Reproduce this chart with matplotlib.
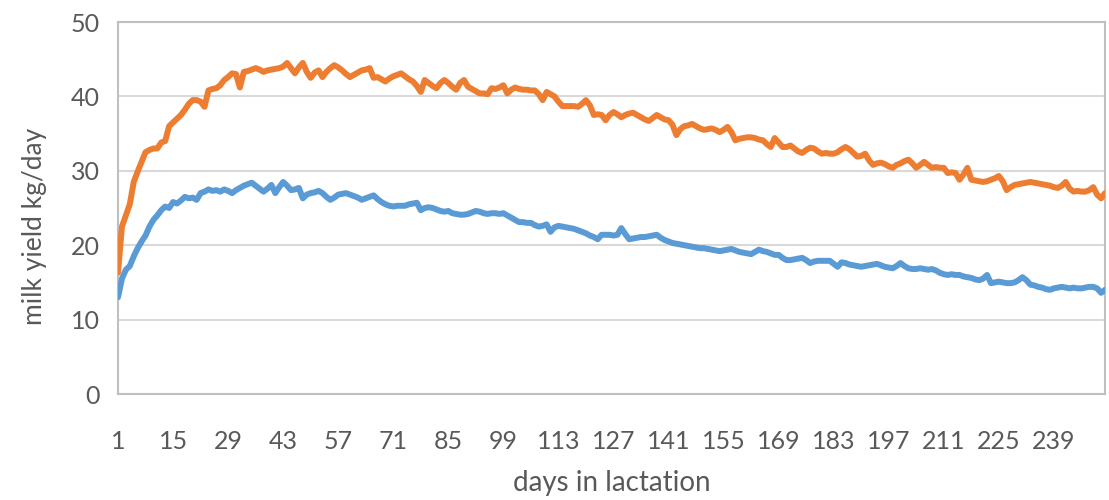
import matplotlib
matplotlib.use("Agg")
import matplotlib.pyplot as plt
import numpy as np

# daily milk yield (kg/day), days 1..252
orange_yield = [
    16.3, 22.5, 24.0, 25.5, 28.5, 29.9, 31.2, 32.5, 32.8, 33.0,
    33.0, 33.8, 34.0, 36.0, 36.5, 37.0, 37.5, 38.2, 39.0, 39.5,
    39.5, 39.3, 38.6, 40.8, 41.0, 41.1, 41.5, 42.2, 42.6, 43.1,
    43.0, 41.2, 43.3, 43.4, 43.6, 43.8, 43.6, 43.3, 43.5, 43.6,
    43.7, 43.8, 44.0, 44.5, 43.8, 43.1, 43.9, 44.5, 43.3, 42.5,
    43.2, 43.5, 42.6, 43.3, 43.8, 44.2, 43.9, 43.5, 43.0, 42.6,
    42.9, 43.2, 43.5, 43.6, 43.8, 42.5, 42.6, 42.3, 42.0, 42.4,
    42.7, 42.9, 43.1, 42.7, 42.3, 42.0, 41.4, 40.6, 42.2, 41.8,
    41.4, 41.1, 41.8, 42.2, 41.8, 41.3, 40.9, 41.8, 42.2, 41.3,
    41.0, 40.7, 40.4, 40.4, 40.3, 41.1, 41.0, 41.2, 41.5, 40.4,
    40.9, 41.2, 41.0, 40.9, 40.9, 40.8, 40.8, 40.3, 39.5, 40.6,
    40.3, 40.0, 39.3, 38.7, 38.7, 38.7, 38.7, 38.6, 39.0, 39.5,
    38.8, 37.5, 37.6, 37.5, 36.8, 37.5, 37.9, 37.6, 37.2, 37.5,
    37.7, 37.8, 37.5, 37.2, 36.9, 36.7, 37.1, 37.5, 37.2, 36.9,
    36.8, 36.2, 34.8, 35.6, 36.0, 36.1, 36.3, 36.0, 35.7, 35.5,
    35.6, 35.7, 35.5, 35.2, 35.5, 35.9, 35.2, 34.1, 34.3, 34.4,
    34.5, 34.5, 34.4, 34.2, 34.1, 33.6, 33.2, 34.4, 33.8, 33.2,
    33.2, 33.4, 33.0, 32.6, 32.4, 32.8, 33.1, 33.0, 32.6, 32.3,
    32.4, 32.3, 32.3, 32.5, 32.9, 33.2, 32.9, 32.4, 31.9, 32.0,
    32.3, 31.4, 30.8, 31.0, 31.1, 30.9, 30.6, 30.4, 30.8, 31.0,
    31.3, 31.5, 31.0, 30.4, 30.8, 31.2, 30.8, 30.4, 30.5, 30.4,
    30.4, 29.7, 29.8, 29.7, 28.8, 29.5, 30.4, 28.8, 28.7, 28.6,
    28.5, 28.6, 28.8, 29.0, 29.3, 28.6, 27.4, 27.8, 28.1, 28.2,
    28.3, 28.4, 28.5, 28.4, 28.3, 28.2, 28.1, 28.0, 27.8, 27.7,
    28.0, 28.5, 27.6, 27.2, 27.3, 27.2, 27.2, 27.4, 27.8, 26.8,
    26.3, 27.0,
]

blue_yield = [
    13.0, 15.5, 16.7, 17.2, 18.5, 19.6, 20.5, 21.3, 22.5, 23.4,
    24.0, 24.7, 25.2, 25.0, 25.8, 25.6, 26.0, 26.5, 26.3, 26.4,
    26.1, 27.0, 27.2, 27.5, 27.3, 27.4, 27.2, 27.5, 27.3, 27.0,
    27.4, 27.7, 28.0, 28.2, 28.4, 28.0, 27.6, 27.2, 27.6, 28.1,
    27.0, 27.8, 28.5, 28.0, 27.4, 27.5, 27.7, 26.3, 26.8, 27.0,
    27.1, 27.3, 27.0, 26.5, 26.1, 26.4, 26.8, 26.9, 27.0, 26.8,
    26.6, 26.4, 26.1, 26.3, 26.5, 26.7, 26.2, 25.8, 25.5, 25.3,
    25.2, 25.3, 25.3, 25.3, 25.5, 25.6, 25.7, 24.7, 25.0, 25.1,
    25.0, 24.8, 24.6, 24.5, 24.6, 24.3, 24.2, 24.1, 24.1, 24.2,
    24.4, 24.6, 24.5, 24.3, 24.2, 24.3, 24.3, 24.2, 24.3, 24.0,
    23.7, 23.4, 23.1, 23.1, 23.0, 23.0, 22.7, 22.5, 22.6, 22.8,
    21.8, 22.4, 22.6, 22.5, 22.4, 22.3, 22.2, 22.0, 21.8, 21.6,
    21.3, 21.1, 20.8, 21.4, 21.4, 21.4, 21.3, 21.4, 22.3, 21.5,
    20.8, 20.9, 21.0, 21.1, 21.1, 21.2, 21.3, 21.4, 21.0, 20.7,
    20.5, 20.3, 20.2, 20.1, 20.0, 19.9, 19.8, 19.7, 19.6, 19.6,
    19.5, 19.4, 19.3, 19.2, 19.3, 19.4, 19.5, 19.3, 19.1, 19.0,
    18.9, 18.8, 19.1, 19.4, 19.2, 19.1, 18.9, 18.7, 18.7, 18.3,
    18.0, 18.0, 18.1, 18.2, 18.3, 18.0, 17.6, 17.8, 17.9, 17.9,
    17.9, 17.9, 17.5, 17.1, 17.7, 17.6, 17.4, 17.3, 17.2, 17.1,
    17.2, 17.3, 17.4, 17.5, 17.3, 17.1, 17.0, 16.9, 17.2, 17.6,
    17.2, 16.9, 16.8, 16.8, 16.9, 16.8, 16.7, 16.8, 16.6, 16.3,
    16.1, 16.0, 16.1, 16.0, 16.0, 15.8, 15.7, 15.6, 15.4, 15.3,
    15.5, 16.0, 14.9, 15.0, 15.1, 15.0, 14.9, 14.9, 15.0, 15.3,
    15.7, 15.3, 14.7, 14.6, 14.4, 14.3, 14.1, 14.0, 14.2, 14.3,
    14.4, 14.3, 14.2, 14.3, 14.2, 14.2, 14.3, 14.4, 14.4, 14.2,
    13.6, 14.0,
]

days = np.arange(1, len(orange_yield) + 1)
x_ticks = list(range(1, 240, 14))
y_ticks = [0, 10, 20, 30, 40, 50]

plt.rcParams['font.family'] = ['Lato', 'DejaVu Sans']
text_color = '#595959'

fig = plt.figure(figsize=(11.09, 5.0), dpi=100)
ax = fig.add_axes([0.1064, 0.212, 0.89, 0.744])

ax.plot(days, orange_yield, color='#ED7D31', linewidth=4.3, solid_capstyle='round',
        solid_joinstyle='round', zorder=3)
ax.plot(days, blue_yield, color='#5B9BD5', linewidth=4.3, solid_capstyle='round',
        solid_joinstyle='round', zorder=3)

ax.set_xlim(1, len(orange_yield))
ax.set_ylim(0, 50)
ax.set_xticks(x_ticks)
ax.set_yticks(y_ticks)

ax.yaxis.grid(True, color='#D9D9D9', linewidth=1.5)
ax.set_axisbelow(True)
for s in ax.spines.values():
    s.set_color('#BFBFBF')
    s.set_linewidth(1.5)

ax.tick_params(axis='both', length=0, labelsize=18, labelcolor=text_color)
ax.tick_params(axis='x', pad=26)
ax.tick_params(axis='y', pad=13)

ax.set_xlabel('days in lactation', fontsize=20, color=text_color, labelpad=12)
ax.set_ylabel('milk yield kg/day', fontsize=19, color=text_color)
ax.yaxis.set_label_coords(-0.072, 0.45)

fig.savefig('out.png', dpi=100)
